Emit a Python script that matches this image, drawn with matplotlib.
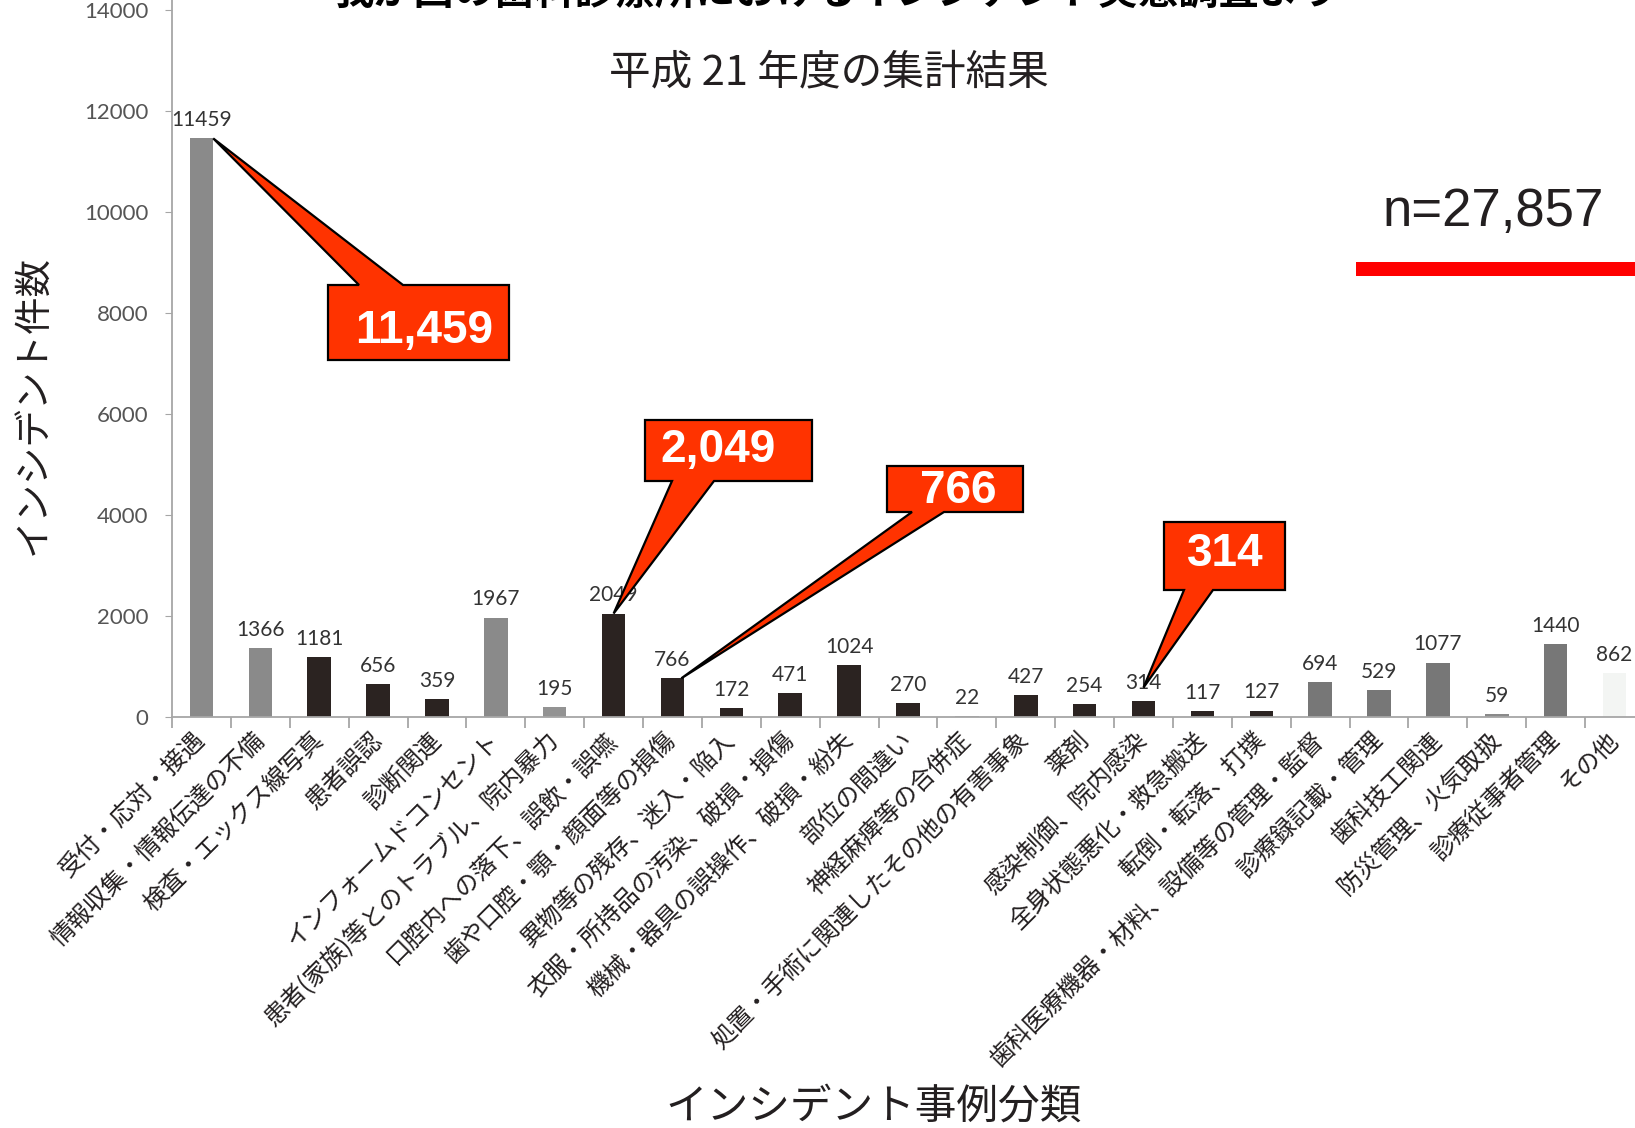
import matplotlib
matplotlib.use('Agg')
import matplotlib.pyplot as plt
from matplotlib.patches import Polygon, Rectangle

# data
categories = [
    '受付・応対・接遇', '情報収集・情報伝達の不備', '検査・エックス線写真', '患者誤認', '診断関連',
    'インフォームドコンセント', '患者(家族)等とのトラブル、院内暴力', '口腔内への落下、誤飲・誤嚥',
    '歯や口腔・顎・顔面等の損傷', '異物等の残存、迷入・陥入', '衣服・所持品の汚染、破損・損傷',
    '機械・器具の誤操作、破損・紛失', '部位の間違い', '神経麻痺等の合併症',
    '処置・手術に関連したその他の有害事象', '薬剤', '感染制御、院内感染', '全身状態悪化・救急搬送',
    '転倒・転落、打撲', '歯科医療機器・材料、設備等の管理・監督', '診療録記載・管理', '歯科技工関連',
    '防災管理、火気取扱', '診療従事者管理', 'その他',
]
counts = [11459, 1366, 1181, 656, 359, 1967, 195, 2049, 766, 172, 471, 1024, 270, 22,
          427, 254, 314, 117, 127, 694, 529, 1077, 59, 1440, 862]
total_n = 27857

# callouts: category index and text
callout_idx = [0, 7, 8, 16]
callout_txt = ['11,459', '2,049', '766', '314']

bar_colors = ['#8a8a8a', '#8a8a8a', '#2b2321', '#2b2321', '#2b2321', '#8a8a8a', '#939393',
              '#2b2321', '#2b2321', '#2b2321', '#2b2321', '#2b2321', '#2b2321', '#b0b0b0',
              '#2b2321', '#2b2321', '#2b2321', '#2b2321', '#2b2321', '#777777', '#777777',
              '#777777', '#8a8a8a', '#777777', '#f3f5f3']

plt.rcParams['font.family'] = ['Noto Sans CJK JP', 'DejaVu Sans']

W, H = 1635, 1128
fig = plt.figure(figsize=(W / 100, H / 100), dpi=100)
fig.patch.set_facecolor('white')
ax = fig.add_axes([172 / W, 1 - 717 / H, 1472 / W, 717 / H])

x = list(range(len(counts)))
ax.bar(x, counts, width=0.4, color=bar_colors, linewidth=0, zorder=2)
ax.set_xlim(-0.5, len(counts) - 0.5)
ax.set_ylim(0, 14200)

for s in ['top', 'right']:
    ax.spines[s].set_visible(False)
for s in ['left', 'bottom']:
    ax.spines[s].set_color('#a6a6a6')
    ax.spines[s].set_linewidth(1.3)

ax.set_yticks(range(0, 14001, 2000))
ax.tick_params(axis='y', length=5, color='#a6a6a6', pad=12, labelsize=16, labelcolor='#555555')
for lab in ax.get_yticklabels():
    lab.set_family('Lato')

# labels at category centres, tick marks at category borders
ax.set_xticks(x)
ax.set_xticklabels(categories, rotation=45, ha='right', va='center', rotation_mode='anchor',
                   fontsize=17.5, color='#231f20')
ax.set_xticks([i - 0.5 for i in range(len(counts) + 1)], minor=True)
ax.tick_params(axis='x', which='major', length=0, pad=14)
ax.tick_params(axis='x', which='minor', length=8, color='#a6a6a6', width=1.3)

for i, v in enumerate(counts):
    ax.annotate(str(v), (i, v), xytext=(0, 6), textcoords='offset points', ha='center',
                va='bottom', fontsize=15, color='#333333', family='Lato', zorder=3)

# texts around the chart
fig.text(837 / W, 1 - 5 / H, '我が国の歯科診療所におけるインシデント実態調査より', ha='center',
         va='baseline', fontsize=29, fontweight='bold', color='black')
fig.text(829 / W, 1 - 73 / H, '平成 21 年度の集計結果', ha='center', va='center', fontsize=30,
         color='#231f20')
fig.text(1493 / W, 1 - 212 / H, f'n={total_n:,}', ha='center',
         va='center', fontsize=38, family='Liberation Sans', color='#231f20')
fig.patches.append(Rectangle((1356 / W, 1 - 276 / H), (W - 1356) / W, 14 / H,
                             transform=fig.transFigure, facecolor='#ff0000', edgecolor='none'))
fig.text(34 / W, 1 - 405 / H, 'インシデント件数', rotation=90, ha='center', va='center',
         fontsize=27, color='#231f20')
fig.text(874 / W, 1 - 1107 / H, 'インシデント事例分類', ha='center', va='center', fontsize=30,
         color='#231f20')

# callout boxes in pixels from the top-left: box, wedge base, wedge side, text centre, tip offset
boxes = [(328, 285, 509, 360), (645, 420, 812, 481), (887, 466, 1023, 512), (1164, 522, 1285, 590)]
wedges = [(359, 403), (672, 714), (912, 944), (1184, 1213)]
sides = ['top', 'bottom', 'bottom', 'bottom']
text_pos = [(424, 331), (718, 450), (958, 491), (1225, 554)]
tip_off = [(0.2, 0), (0, 0), (0.15, 0), (0, 270)]


def to_fig(px, py):
    return px / W, 1 - py / H


for k, idx in enumerate(callout_idx):
    tx, ty = ax.transData.transform((idx + tip_off[k][0], counts[idx] + tip_off[k][1]))
    tip = (tx, H - ty)
    x0, y0, x1, y1 = boxes[k]
    a, b = wedges[k]
    if sides[k] == 'top':
        pts = [(x0, y0), (a, y0), tip, (b, y0), (x1, y0), (x1, y1), (x0, y1)]
    else:
        pts = [(x0, y0), (x1, y0), (x1, y1), (b, y1), tip, (a, y1), (x0, y1)]
    poly = Polygon([to_fig(*p) for p in pts], closed=True, transform=fig.transFigure,
                   facecolor='#ff3300', edgecolor='black', linewidth=1.6, zorder=5)
    fig.patches.append(poly)
    fig.text(*to_fig(*text_pos[k]), callout_txt[k], ha='center', va='center', fontsize=33,
             fontweight='bold', color='white', family='Liberation Sans', zorder=6)

fig.savefig('out.png', dpi=100, facecolor='white')
